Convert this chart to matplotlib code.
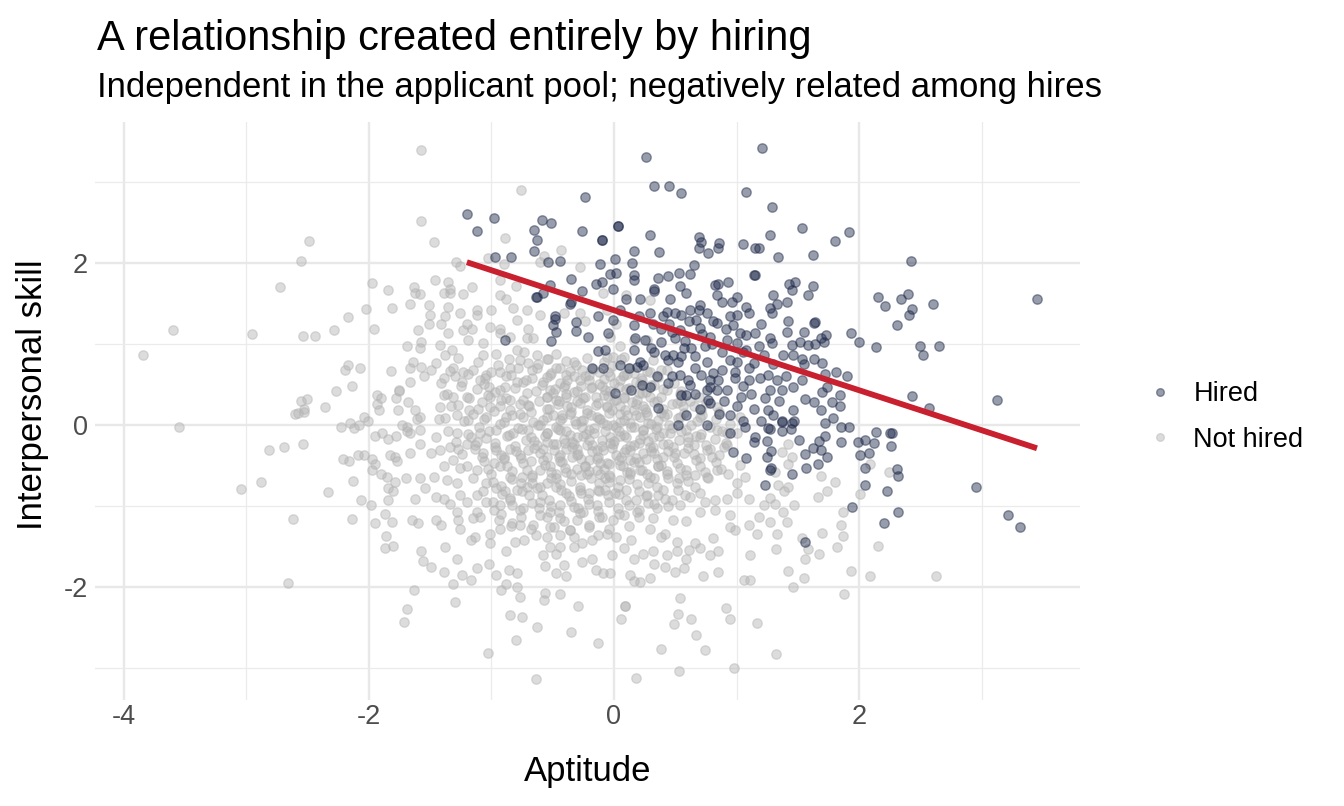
import matplotlib
matplotlib.use("Agg")
import matplotlib.pyplot as plt
from matplotlib.lines import Line2D
import numpy as np

plt.rcParams['font.family'] = ['Liberation Sans', 'DejaVu Sans']

title = "A relationship created entirely by hiring"
subtitle = "Independent in the applicant pool; negatively related among hires"
x_label = "Aptitude"
y_label = "Interpersonal skill"
legend_labels = ["Hired", "Not hired"]
x_ticks = [-4, -2, 0, 2]
y_ticks = [-2, 0, 2]

# Hired applicants: (aptitude, interpersonal skill)
hired_points = [
    (0.26,3.31),(0.33,2.95),(0.45,2.95),(0.55,2.86),(1.08,2.88),(-0.24,2.82),(-1.20,2.61),(-0.98,2.55),
    (-1.12,2.40),(-0.59,2.53),(-0.51,2.49),(-0.65,2.41),(-0.63,2.28),(-0.65,2.15),(-0.26,2.39),(0.03,2.46),
    (0.03,2.46),(-0.10,2.28),(-0.10,2.28),(0.29,2.35),(0.37,2.14),(0.16,2.15),(0.01,2.05),(0.15,2.00),
    (-0.11,1.99),(-0.54,2.01),(-0.44,2.02),(-0.97,2.07),(-0.84,2.08),(0.69,2.32),(0.71,2.26),(0.69,2.19),
    (0.77,2.12),(0.86,2.25),(0.85,2.18),(1.05,2.24),(1.15,2.19),(0.65,1.97),(0.62,1.86),(0.53,1.88),
    (0.44,1.84),(0.36,1.82),(0.33,1.68),(0.54,1.72),(0.16,1.85),(0.16,1.79),(-0.03,1.87),(0.02,1.88),
    (-0.15,1.74),(-0.10,1.77),(-0.01,1.68),(0.82,1.73),(0.85,1.74),(0.93,1.77),(1.14,1.85),(-0.35,1.80),
    (-0.26,1.66),(-0.52,1.73),(-0.58,1.63),(-0.63,1.58),(-0.36,1.50),(-0.35,1.52),(-0.48,1.31),(-0.47,1.15),
    (-0.51,1.04),(-0.89,1.05),(-0.21,1.09),(-0.31,1.27),(-0.31,1.16),(-0.13,1.35),(-0.13,0.91),(-0.18,0.70),
    (-0.50,1.23),(-0.48,1.34),(-0.64,1.58),
    (1.21,3.42),(1.29,2.69),(1.27,2.34),(1.53,2.43),(1.18,2.19),(1.34,2.08),(1.62,2.10),(1.80,2.27),
    (1.92,2.38),(2.42,2.03),(2.15,1.58),(2.21,1.47),(2.34,1.56),(2.40,1.62),(2.43,1.43),(2.41,1.36),
    (2.60,1.49),(2.31,1.24),(3.45,1.56),(1.93,1.13),(2.00,1.02),(2.14,0.96),(2.50,0.98),(2.52,0.87),
    (2.65,0.97),(2.43,0.36),(2.57,0.21),(3.12,0.31),(1.15,1.85),(1.43,1.74),(1.48,1.77),(1.62,1.72),
    (1.58,1.61),(1.63,1.26),(1.64,1.27),(1.55,1.15),(1.73,1.11),(1.69,1.07),(1.71,1.02),(1.64,1.00),
    (1.58,0.99),(1.52,1.02),(1.63,0.82),(1.70,0.76),(1.53,0.81),(1.55,0.75),(1.81,0.65),(1.90,0.60),
    (1.72,0.63),(1.53,0.55),(1.56,0.32),(1.63,0.29),(1.70,0.41),(1.74,0.47),(1.84,0.37),(1.84,0.23),
    (1.78,0.28),(1.69,0.19),
    (2.95,-0.76),(3.21,-1.11),(3.31,-1.26),(2.32,-1.08),(2.20,-1.21),(1.94,-1.01),(1.56,-1.44),(2.23,-0.81),
    (2.05,-0.74),(2.31,-0.54),(2.32,-0.63),(2.05,-0.53),(2.01,-0.37),(2.08,-0.34),(2.26,-0.26),(2.25,-0.10),
    (2.27,-0.10),(2.14,-0.09),(2.12,-0.22),(2.05,-0.18),(1.99,-0.21),(1.85,-0.21),(1.92,-0.02),(1.85,-0.02),
    (1.79,0.09),(1.72,0.02),(1.72,-0.14),(1.67,-0.20),(1.62,-0.28),(1.56,-0.36),(1.69,-0.31),(1.74,-0.39),
    (1.66,-0.48),(1.57,-0.53),(1.51,-0.19),(1.45,-0.60),(1.27,-0.55),(1.23,-0.74),(1.44,-0.05),(1.27,-0.05),
    (1.37,0.05),(1.47,0.05),(1.28,-0.32),(1.25,-0.40),(0.97,-0.33),(1.08,-0.41),(1.14,-0.21),(1.28,-0.53),
    (0.21,1.56),(0.33,1.65),(0.46,1.55),(0.59,1.63),(0.70,1.48),(0.84,1.61),(0.88,1.52),(0.96,1.52),
    (1.00,1.58),(1.08,1.46),(1.30,1.61),(1.33,1.50),(1.45,1.67),(1.41,1.52),(1.27,1.44),(0.05,1.42),
    (0.29,1.38),(0.43,1.40),(0.50,1.38),(0.55,1.36),(0.62,1.42),(0.69,1.42),(0.76,1.38),(0.81,1.28),
    (0.84,1.26),(0.91,1.19),(0.97,1.23),(1.00,1.36),(1.10,1.38),(-0.01,1.30),(0.16,1.23),(0.32,1.25),
    (0.40,1.34),(0.67,1.30),(0.61,1.28),(1.29,1.38),(-0.05,1.13),(0.17,1.07),(0.25,1.05),(0.38,1.03),
    (0.50,1.07),(0.47,1.15),(0.54,1.17),(0.78,1.09),(1.03,1.13),(1.08,1.11),(1.15,1.13),(1.27,1.07),
    (1.29,1.01),(1.41,1.15),(1.42,1.28),(1.45,0.99),(1.00,1.01),(-0.07,0.93),(0.16,0.93),(0.33,0.90),
    (0.42,0.86),(0.48,0.86),(0.57,0.95),(0.63,0.95),(0.74,0.97),(0.88,0.90),(1.08,0.93),(1.22,0.86),
    (1.38,0.86),(1.46,0.86),(0.21,0.78),(0.24,0.74),(0.44,0.80),(0.52,0.78),(0.76,0.78),(1.00,0.78),
    (0.05,0.74),(-0.09,0.70),(0.12,0.70),(0.19,0.72),(0.47,0.60),(0.54,0.62),(0.66,0.70),(0.81,0.64),
    (0.88,0.68),(0.99,0.66),(1.10,0.70),(1.19,0.58),(1.26,0.62),(1.33,0.55),(1.40,0.60),(0.62,0.49),
    (0.78,0.55),(0.99,0.58),(0.01,0.39),(0.14,0.43),(0.23,0.49),(0.29,0.47),(0.55,0.37),(0.59,0.37),
    (0.76,0.43),(0.78,0.47),(0.84,0.43),(0.92,0.43),(1.04,0.35),(1.23,0.33),(1.27,0.43),(1.37,0.43),
    (1.46,0.47),(0.36,0.21),(0.59,0.12),(0.77,0.31),(0.78,0.27),(1.00,0.23),(1.14,0.20),(1.26,0.18),
    (1.30,0.12),(1.37,0.04),(1.46,0.18),(0.95,0.12),(0.52,0.00),(0.76,0.00),(1.07,-0.02),(1.26,-0.04),
    (1.37,-0.08),(1.45,0.02),(1.15,-0.15),
    (0.72,1.12),(0.92,1.05),(1.18,0.98),(0.66,0.85),(0.95,0.80),(1.14,0.76),(0.71,0.62),(1.05,0.48),
    (0.90,0.30),(1.12,0.38),(0.44,0.52),(0.66,0.38),(0.86,0.14),(1.20,0.05),(0.38,1.18),(0.58,1.04),
    (0.30,0.95),(0.55,0.85),(0.80,1.00),(1.05,0.90),(1.30,0.75),(0.45,1.25),(0.70,1.20),(0.95,1.35),
    (1.20,1.25),(0.35,0.60),(0.60,0.55),(0.85,0.55),(1.10,0.55),(1.35,0.30),(0.70,0.20),(1.05,0.05),
    (1.25,-0.20),(0.95,-0.10),(0.20,1.35),(0.10,1.55),
]

# Not hired applicants: (aptitude, interpersonal skill)
not_hired_points = [
    # far left / upper left
    (-1.57,3.40),(-1.57,2.52),(-2.49,2.27),(-2.55,2.02),(-2.72,1.70),(-3.60,1.17),(-3.84,0.86),(-2.95,1.12),
    (-2.54,1.10),(-2.44,1.10),(-2.28,1.17),(-2.17,1.33),(-2.02,1.43),(-1.97,1.75),(-1.96,1.19),(-1.84,1.67),
    (-1.81,1.45),(-2.17,0.74),(-2.19,0.68),(-2.07,0.70),(-1.82,0.67),(-2.14,0.48),(-2.27,0.42),(-2.55,0.30),
    (-2.50,0.32),(-2.53,0.20),(-2.36,0.22),(-2.58,0.15),(-1.93,0.37),(-1.90,0.33),(-1.93,0.26),(-1.78,0.33),
    (-1.75,0.42),(-1.92,0.18),(-1.76,0.19),(-1.63,1.70),
    # upper middle
    (-0.76,2.90),(-0.89,2.31),(-1.47,2.26),(-0.43,2.16),(-1.29,2.01),(-1.26,1.96),(-1.03,2.06),(-0.90,1.99),
    (-0.28,1.95),(-0.57,2.09),(-0.60,2.01),(-1.35,1.77),(-1.34,1.68),(-1.16,1.70),(-0.93,1.79),(-0.80,1.72),
    (-1.46,1.79),
    # left lower
    (-3.55,-0.02),(-2.60,0.13),(-2.53,0.16),(-2.81,-0.31),(-2.69,-0.27),(-2.54,-0.23),(-3.04,-0.79),(-2.88,-0.70),
    (-2.33,-0.83),(-2.62,-1.16),(-2.66,-1.95),(-2.23,-0.02),(-2.15,0.02),(-2.12,-0.04),(-2.08,0.00),(-2.04,0.10),
    (-2.01,0.05),(-2.21,-0.42),(-2.16,-0.44),(-2.09,-0.37),(-2.04,-0.37),(-1.97,-0.42),(-1.95,-0.48),(-1.97,-0.56),
    (-1.90,-0.60),(-1.85,-0.64),(-1.79,-0.70),(-2.13,-0.69),(-2.06,-0.92),(-1.98,-0.99),(-2.14,-1.16),(-1.95,-1.21),
    (-1.87,-1.10),(-1.81,-1.20),(-1.86,-1.37),(-1.87,-1.52),(-1.80,-1.49),(-1.84,-0.78),(-1.80,-0.82),(-1.84,-0.92),
    (-1.70,-0.65),(-1.66,-0.35),(-1.58,-0.65),(-1.62,-0.91),(-1.65,-1.17),(-1.60,-1.21),(-1.57,-1.56),(-1.56,-1.68),
    (-1.63,-2.04),(-1.69,-2.27),(-1.71,-2.43),(-1.95,-0.14),(-1.89,-0.10),(-1.84,-0.17),(-1.78,-0.13),(-1.83,-0.37),
    (-1.79,-0.40),(-1.77,-0.44),(-1.73,0.00),(-1.69,-0.07),(-1.66,-0.10),(-1.58,-0.24),(-1.58,0.10),
    # centre-left block
    (-1.62,1.63),(-1.58,1.62),(-1.39,1.63),(-1.34,1.63),(-1.23,1.62),(-0.93,1.61),(-0.88,1.56),(-1.66,1.50),
    (-1.51,1.48),(-1.35,1.46),(-1.12,1.42),(-1.00,1.42),(-0.82,1.44),(-0.71,1.42),(-1.50,1.36),(-1.26,1.38),
    (-1.12,1.36),(-1.38,1.34),(-1.41,1.25),(-1.51,1.25),(-1.20,1.25),(-1.01,1.21),(-0.93,1.19),(-0.79,1.30),
    (-0.70,1.19),(-0.60,1.36),(-0.41,1.38),(-1.60,1.17),(-1.35,1.13),(-1.23,1.17),(-1.16,1.19),(-0.93,1.13),
    (-0.85,1.09),(-1.57,1.03),(-1.19,1.05),(-1.07,1.01),(-0.71,1.07),(-0.66,1.07),(-0.28,1.38),(-0.24,1.28),
    (-1.69,0.97),(-1.58,0.95),(-1.42,0.99),(-1.32,0.93),(-1.38,0.86),(-1.07,0.86),(-0.96,0.88),(-0.79,0.93),
    (-0.73,0.90),(-0.63,0.86),(-0.55,0.82),(-0.47,0.88),(-1.64,0.78),(-1.45,0.76),(-1.66,0.70),(-1.57,0.72),
    (-1.49,0.68),(-1.31,0.70),(-1.23,0.66),(-1.15,0.68),(-1.04,0.62),(-0.93,0.66),(-0.85,0.70),(-0.77,0.80),
    (-0.63,0.70),(-0.44,0.70),(-0.33,0.78),(-0.26,0.68),(-0.39,0.62),(-1.66,0.53),(-1.55,0.60),(-1.39,0.58),
    (-1.30,0.60),(-1.24,0.53),(-1.09,0.55),(-1.02,0.47),(-0.93,0.43),(-0.79,0.53),(-0.67,0.58),(-0.58,0.53),
    (-0.52,0.43),(-0.41,0.47),(-0.28,0.55),(-0.18,0.47),(-1.75,0.43),(-1.68,0.29),(-1.62,0.18),(-1.39,0.37),
    (-1.31,0.35),(-1.18,0.33),(-1.01,0.35),(-0.85,0.31),(-0.74,0.31),(-0.55,0.35),(-0.47,0.31),(-0.39,0.35),
    (-0.28,0.27),(-0.15,0.35),(-1.42,0.22),(-1.27,0.25),(-1.11,0.20),(-0.93,0.23),(-1.61,0.08),(-1.43,0.08),
    (-1.28,0.12),(-1.19,0.06),(-1.04,0.10),(-0.88,0.10),(-0.77,0.14),(-0.66,0.04),(-0.55,0.10),(-0.44,0.06),
    (-0.36,0.14),(-0.25,0.06),(-0.14,0.10),(-1.69,-0.02),(-1.58,-0.06),(-1.45,-0.15),(-1.28,-0.10),(-1.17,-0.15),
    (-1.09,-0.10),(-0.96,-0.06),(-0.82,-0.10),(-0.68,-0.15),(-0.55,-0.10),(-0.44,-0.06),(-0.30,-0.15),(-0.20,-0.06),
    # dense core
    (-0.40,0.50),(-0.30,0.42),(-0.20,0.55),(-0.10,0.48),(0.00,0.52),(0.10,0.45),(0.20,0.40),(0.30,0.50),
    (-0.45,0.30),(-0.35,0.22),(-0.25,0.33),(-0.15,0.25),(-0.05,0.36),(0.05,0.24),(0.15,0.28),(0.25,0.20),
    (0.35,0.30),(-0.42,0.12),(-0.32,0.05),(-0.22,0.15),(-0.12,0.08),(-0.02,0.18),(0.08,0.06),(0.18,0.12),
    (0.28,0.03),(0.38,0.15),(-0.46,-0.05),(-0.36,-0.12),(-0.26,-0.02),(-0.16,-0.10),(-0.06,0.00),(0.04,-0.08),
    (0.14,-0.03),(0.24,-0.12),(0.34,-0.05),(-0.40,-0.22),(-0.30,-0.30),(-0.20,-0.18),(-0.10,-0.26),(0.00,-0.20),
    (0.10,-0.30),(0.20,-0.22),(0.30,-0.32),(0.40,-0.24),(-0.44,-0.45),(-0.34,-0.40),(-0.24,-0.50),(-0.14,-0.42),
    (-0.04,-0.48),(0.06,-0.40),(0.16,-0.46),(0.26,-0.42),(0.36,-0.50),(-0.55,0.20),(-0.60,0.00),(-0.58,-0.30),
    (0.45,0.00),(0.50,-0.35),(-0.50,0.40),(-0.70,0.25),(-0.75,-0.05),(-0.68,-0.45),(0.55,0.30),(0.60,-0.15),
    (-0.33,0.60),(-0.12,0.65),(0.08,0.62),(-0.52,0.62),(0.22,0.58),(-0.27,-0.62),(-0.07,-0.66),(0.13,-0.60),
    (0.33,-0.65),(-0.47,-0.65),
    # dense core, second pass
    (-0.95,0.74),(-0.78,0.70),(-0.62,0.75),(-0.47,0.71),(-0.31,0.74),(-0.17,0.69),(-0.02,0.73),(0.12,0.70),
    (-1.05,0.58),(-0.88,0.61),(-0.72,0.56),(-0.55,0.59),(-0.38,0.56),(-0.24,0.61),(-0.08,0.57),(0.07,0.60),
    (0.23,0.55),(0.36,0.59),(-1.12,0.44),(-0.97,0.41),(-0.81,0.46),(-0.64,0.42),(-0.48,0.45),(-0.33,0.41),
    (-0.19,0.46),(-0.03,0.42),(0.12,0.46),(0.26,0.41),(0.40,0.45),(0.55,0.42),(-1.08,0.28),(-0.92,0.31),
    (-0.77,0.26),(-0.61,0.30),(-0.46,0.26),(-0.30,0.30),(-0.13,0.27),(0.02,0.31),(0.18,0.26),(0.33,0.29),
    (0.47,0.26),(0.62,0.30),(0.75,0.27),(-1.15,0.14),(-0.98,0.17),(-0.83,0.12),(-0.68,0.16),(-0.50,0.12),
    (-0.35,0.16),(-0.19,0.12),(-0.04,0.15),(0.11,0.12),(0.26,0.16),(0.41,0.11),(0.57,0.15),(0.72,0.12),
    (0.86,0.16),(-1.10,-0.02),(-0.93,0.01),(-0.78,-0.04),(-0.62,0.00),(-0.47,-0.03),(-0.31,0.01),(-0.16,-0.04),
    (-0.01,0.00),(0.16,-0.03),(0.30,0.01),(0.47,-0.04),(0.63,0.00),(0.78,-0.03),(0.95,0.01),(-1.04,-0.16),
    (-0.87,-0.13),(-0.72,-0.18),(-0.56,-0.14),(-0.41,-0.17),(-0.25,-0.13),(-0.10,-0.18),(0.05,-0.14),(0.21,-0.17),
    (0.37,-0.13),(0.53,-0.18),(0.67,-0.14),(0.82,-0.17),(-1.13,-0.30),(-0.97,-0.27),(-0.80,-0.32),(-0.65,-0.28),
    (-0.49,-0.31),(-0.34,-0.27),(-0.18,-0.32),(-0.02,-0.28),(0.13,-0.31),(0.29,-0.27),(0.44,-0.32),(0.60,-0.28),
    (0.76,-0.31),(0.90,-0.27),(-1.06,-0.45),(-0.90,-0.42),(-0.74,-0.47),(-0.58,-0.43),(-0.42,-0.46),(-0.27,-0.42),
    (-0.11,-0.47),(0.04,-0.43),(0.20,-0.46),(0.35,-0.42),(0.51,-0.47),(0.67,-0.43),(0.83,-0.46),(-1.00,-0.60),
    (-0.83,-0.57),(-0.67,-0.62),(-0.51,-0.58),(-0.35,-0.61),(-0.20,-0.57),(-0.04,-0.62),(0.11,-0.58),(0.27,-0.61),
    (0.43,-0.57),(0.59,-0.62),(0.74,-0.58),(-0.92,-0.75),(-0.76,-0.72),(-0.60,-0.77),(-0.44,-0.73),(-0.28,-0.76),
    (-0.12,-0.72),(0.03,-0.77),(0.19,-0.73),(0.35,-0.76),(0.51,-0.72),(0.66,-0.77),(-0.85,-0.90),(-0.69,-0.87),
    (-0.53,-0.92),(-0.37,-0.88),(-0.21,-0.91),(-0.05,-0.87),(0.10,-0.92),(0.26,-0.88),(0.42,-0.91),(0.58,-0.87),
    (-0.77,-1.05),(-0.61,-1.02),(-0.45,-1.07),(-0.29,-1.03),(-0.13,-1.06),(0.03,-1.02),(0.19,-1.07),(0.35,-1.03),
    # dense core, third pass
    (-1.27,0.83),(-1.11,0.78),(-0.86,0.81),(-0.70,0.77),(-0.54,0.82),(-0.39,0.79),(-0.22,0.83),(-0.08,0.78),
    (0.06,0.81),(-1.34,0.67),(-1.19,0.63),(-1.00,0.66),(-0.84,0.62),(-0.67,0.68),(-0.51,0.64),(-0.36,0.67),
    (-0.20,0.62),(-0.05,0.66),(0.11,0.63),(0.27,0.67),(-1.41,0.52),(-1.25,0.48),(-1.06,0.51),(-0.89,0.47),
    (-0.74,0.53),(-0.59,0.49),(-0.44,0.52),(-0.27,0.48),(-0.12,0.51),(0.04,0.47),(0.18,0.53),(0.33,0.49),
    (0.49,0.52),(-1.36,0.38),(-1.20,0.34),(-1.03,0.37),(-0.88,0.33),(-0.71,0.39),(-0.55,0.35),(-0.39,0.38),
    (-0.24,0.34),(-0.08,0.37),(0.08,0.33),(0.23,0.39),(0.38,0.35),(0.54,0.38),(0.69,0.34),(-1.33,0.23),
    (-1.18,0.19),(-1.01,0.22),(-0.85,0.18),(-0.69,0.24),(-0.53,0.20),(-0.38,0.23),(-0.22,0.19),(-0.06,0.22),
    (0.09,0.18),(0.24,0.24),(0.40,0.20),(0.56,0.23),(0.71,0.19),(0.84,0.22),(-1.38,0.09),(-1.22,0.05),
    (-1.06,0.08),(-0.90,0.04),(-0.74,0.10),(-0.58,0.06),(-0.42,0.09),(-0.27,0.05),(-0.11,0.08),(0.05,0.04),
    (0.21,0.10),(0.36,0.06),(0.52,0.09),(0.68,0.05),(0.83,0.08),(-1.35,-0.07),(-1.19,-0.11),(-1.02,-0.08),
    (-0.86,-0.12),(-0.70,-0.06),(-0.55,-0.10),(-0.39,-0.07),(-0.23,-0.11),(-0.07,-0.08),(0.08,-0.12),(0.24,-0.06),
    (0.40,-0.10),(0.55,-0.07),(0.71,-0.11),(0.88,-0.08),(-1.29,-0.21),(-1.13,-0.25),(-0.97,-0.22),(-0.81,-0.26),
    (-0.65,-0.20),(-0.50,-0.24),(-0.34,-0.21),(-0.18,-0.25),(-0.03,-0.22),(0.13,-0.26),(0.28,-0.20),(0.44,-0.24),
    (0.60,-0.21),(0.75,-0.25),(0.91,-0.22),(-1.24,-0.36),(-1.08,-0.40),(-0.92,-0.37),(-0.76,-0.41),(-0.60,-0.35),
    (-0.45,-0.39),(-0.29,-0.36),(-0.13,-0.40),(0.02,-0.37),(0.18,-0.41),(0.33,-0.35),(0.49,-0.39),(0.65,-0.36),
    (0.80,-0.40),(-1.20,-0.50),(-1.03,-0.54),(-0.87,-0.51),(-0.71,-0.55),(-0.56,-0.49),(-0.40,-0.53),(-0.24,-0.50),
    (-0.08,-0.54),(0.07,-0.51),(0.23,-0.55),(0.38,-0.49),(0.54,-0.53),(0.70,-0.50),(0.87,-0.54),(-1.15,-0.66),
    (-0.99,-0.70),(-0.83,-0.67),(-0.67,-0.71),(-0.51,-0.65),(-0.35,-0.69),(-0.19,-0.66),(-0.04,-0.70),(0.12,-0.67),
    (0.28,-0.71),(0.44,-0.65),(0.60,-0.69),(0.77,-0.66),(-1.07,-0.81),(-0.91,-0.85),(-0.75,-0.82),(-0.59,-0.86),
    (-0.43,-0.80),(-0.27,-0.84),(-0.12,-0.81),(0.04,-0.85),(0.20,-0.82),(0.36,-0.86),(0.52,-0.80),(-0.99,-0.95),
    (-0.83,-0.99),(-0.67,-0.96),(-0.51,-1.00),(-0.35,-0.94),(-0.20,-0.98),(-0.04,-0.95),(0.12,-0.99),(0.28,-0.96),
    (0.44,-1.00),(-0.92,-1.10),(-0.76,-1.14),(-0.60,-1.11),(-0.44,-1.15),(-0.28,-1.09),(-0.12,-1.13),(0.04,-1.10),
    (0.20,-1.14),(-0.84,-1.25),(-0.68,-1.29),(-0.52,-1.26),(-0.36,-1.30),(-0.20,-1.24),(-0.04,-1.28),(0.12,-1.25),
    # centre-right above axis
    (-0.09,1.63),(0.10,1.61),(0.29,1.54),(-0.06,1.42),(0.02,1.25),(-0.03,1.09),(0.05,0.97),(0.16,1.05),
    (0.27,1.05),(-0.06,0.84),(0.08,0.84),(0.32,0.80),(0.38,0.68),(-0.03,0.60),(0.05,0.55),(0.16,0.64),
    (0.29,0.66),(0.43,0.68),(-0.07,0.43),(0.08,0.35),(0.19,0.31),(0.29,0.35),(0.43,0.43),(0.51,0.27),
    (-0.06,0.23),(0.05,0.14),(0.16,0.18),(0.27,0.12),(0.43,0.14),(0.54,0.10),(0.65,0.23),(0.70,0.10),
    (-0.09,0.02),(0.02,-0.02),(0.13,0.02),(0.24,-0.06),(0.35,-0.02),(0.46,-0.10),(0.59,-0.06),(0.70,-0.15),
    (0.84,-0.06),(0.92,-0.10),(-0.03,-0.15),(0.10,-0.15),(0.32,-0.15),(-0.01,0.84),(0.21,0.51),(0.00,0.31),
    (1.03,0.10),(1.00,-0.10),
    # lower left-centre
    (-1.49,-0.35),(-1.42,-0.31),(-1.34,-0.27),(-1.27,-0.29),(-1.20,-0.23),(-1.12,-0.21),(-1.07,-0.35),(-0.96,-0.31),
    (-0.90,-0.39),(-0.85,-0.29),(-0.77,-0.37),(-0.70,-0.31),(-0.63,-0.25),(-0.55,-0.21),(-0.47,-0.23),(-0.39,-0.29),
    (-0.33,-0.23),(-0.22,-0.25),(-0.14,-0.31),(-0.55,-0.39),(-0.44,-0.37),(-0.30,-0.37),(-0.20,-0.43),(-1.47,-0.64),
    (-1.39,-0.51),(-1.31,-0.43),(-1.26,-0.53),(-1.36,-0.68),(-1.28,-0.72),(-1.12,-0.56),(-0.98,-0.47),(-0.93,-0.51),
    (-0.85,-0.64),(-0.75,-0.64),(-0.67,-0.64),(-0.60,-0.56),(-0.52,-0.51),(-0.47,-0.60),(-0.39,-0.58),(-0.30,-0.54),
    (-0.22,-0.60),(-0.14,-0.56),(-1.54,-0.78),(-1.45,-0.89),(-1.39,-0.91),(-1.26,-0.86),(-1.12,-0.86),(-1.04,-0.72),
    (-0.96,-0.78),(-0.89,-0.82),(-0.79,-0.80),(-0.71,-0.76),(-0.63,-0.78),(-0.55,-0.72),(-0.47,-0.76),(-0.39,-0.84),
    (-0.28,-0.80),(-0.20,-0.84),(-0.13,-0.80),(-1.34,-0.97),(-1.20,-0.95),(-1.28,-1.07),(-1.12,-1.07),(-1.04,-0.95),
    (-0.98,-1.05),(-0.93,-0.99),(-0.85,-0.93),(-0.74,-1.03),(-0.60,-0.95),(-0.52,-1.07),(-0.44,-0.99),(-0.33,-1.01),
    (-0.25,-1.07),(-0.14,-0.99),(-1.45,-1.17),(-1.41,-1.24),(-1.27,-1.17),(-1.26,-1.28),(-1.15,-1.15),(-1.09,-1.13),
    (-0.94,-1.17),(-0.93,-1.28),(-0.83,-1.21),(-0.77,-1.24),(-0.66,-1.24),(-0.55,-1.13),(-0.49,-1.26),(-0.41,-1.19),
    (-0.36,-1.30),(-0.30,-1.17),(-0.20,-1.26),(-0.13,-1.36),(-1.01,-1.34),(-0.55,-1.38),(-0.44,-1.36),(-0.33,-1.38),
    (-1.38,-1.50),(-1.13,-1.38),(-1.17,-1.42),(-1.01,-1.46),(-0.88,-1.56),(-0.81,-1.44),(-0.73,-1.42),(-0.64,-1.36),
    (-0.52,-1.50),(-0.44,-1.50),(-0.33,-1.50),(-0.26,-1.46),(-0.18,-1.42),(-0.58,-1.61),(-0.47,-1.59),(-1.49,-1.75),
    (-1.28,-1.65),(-1.39,-1.81),(-1.12,-1.77),(-1.24,-1.85),(-1.17,-1.91),(-1.02,-1.71),(-0.96,-1.85),(-0.86,-1.79),
    (-0.79,-1.83),(-0.56,-1.74),(-0.47,-1.83),(-0.41,-1.73),(-0.39,-1.87),(-0.26,-1.69),(-0.18,-1.65),(-0.15,-1.79),
    (-1.31,-1.96),(-0.88,-1.96),(-0.79,-2.00),
    # lower right-centre
    (-0.09,-0.31),(-0.01,-0.23),(0.08,-0.33),(0.16,-0.25),(0.24,-0.35),(0.32,-0.27),(0.40,-0.39),(0.48,-0.27),
    (0.57,-0.35),(0.65,-0.25),(0.70,-0.41),(0.78,-0.29),(0.86,-0.37),(0.92,-0.25),(1.03,-0.49),(-0.06,-0.47),
    (0.05,-0.49),(0.13,-0.43),(-0.11,-0.60),(-0.03,-0.64),(0.05,-0.68),(0.13,-0.58),(0.21,-0.56),(0.29,-0.64),
    (0.36,-0.51),(0.43,-0.60),(0.53,-0.66),(0.59,-0.56),(0.66,-0.62),(0.76,-0.64),(0.84,-0.56),(0.93,-0.60),
    (1.00,-0.72),(1.07,-0.64),(-0.07,-0.80),(0.01,-0.84),(0.10,-0.80),(0.18,-0.93),(0.27,-0.86),(0.33,-0.97),
    (0.40,-0.80),(0.47,-0.93),(0.54,-0.99),(0.62,-0.89),(0.70,-0.84),(0.74,-0.95),(0.82,-0.93),(0.92,-0.91),
    (1.00,-0.84),(1.10,-0.91),(-0.10,-1.13),(-0.01,-1.17),(0.08,-1.11),(0.20,-1.05),(0.32,-1.15),(0.48,-1.17),
    (0.59,-1.19),(0.70,-1.07),(0.82,-1.05),(0.95,-1.11),(0.95,-1.26),(0.99,-1.30),(1.10,-1.24),(-0.06,-1.34),
    (0.02,-1.38),(0.14,-1.42),(0.29,-1.28),(0.38,-1.38),(0.42,-1.34),(0.51,-1.44),(0.61,-1.54),(0.66,-1.46),
    (0.70,-1.52),(0.81,-1.40),(-0.02,-1.61),(0.08,-1.52),(0.16,-1.65),(0.24,-1.59),(0.32,-1.56),(0.43,-1.61),
    (0.51,-1.56),(0.59,-1.65),(0.78,-1.61),(0.85,-1.56),(1.11,-1.61),(-0.09,-1.83),(0.13,-1.85),(0.21,-1.94),
    (0.29,-1.89),(0.33,-1.71),(0.42,-1.75),(0.50,-1.81),(0.57,-1.77),(0.73,-1.87),(0.85,-1.81),(1.06,-1.91),
    (1.11,-1.91),(0.16,-1.92),(-0.03,-1.83),
    # right side
    (2.63,-1.86),(2.09,-1.86),(2.15,-1.49),(1.93,-1.80),(1.88,-2.09),(1.32,-2.83),(1.17,-2.44),(1.46,-2.00),
    (1.55,-1.89),(1.42,-1.80),(1.56,-1.65),(1.67,-1.59),(1.82,-1.51),(1.87,-1.37),(1.85,-1.24),(1.70,-1.33),
    (1.58,-1.53),(1.53,-1.40),(1.32,-1.53),(2.01,-0.85),(1.87,-1.07),(1.80,-0.70),(1.74,-0.81),(1.66,-0.89),
    (2.24,-0.58),(2.09,-0.48),(1.69,-0.63),(1.47,-0.99),(1.38,-1.07),(1.41,-1.20),(1.27,-1.20),(1.18,-1.14),
    (1.17,-1.34),(1.33,-1.35),(1.27,-0.90),(1.22,-0.99),(1.39,-0.81),(1.31,-0.97),(1.42,-0.23),(1.37,-0.33),
    (1.42,-0.48),(1.31,-0.58),(1.45,-0.40),(1.34,-0.74),(1.42,-0.77),
    # bottom
    (-0.64,-3.14),(0.18,-3.12),(0.53,-3.04),(0.98,-3.00),(-1.03,-2.81),(-0.80,-2.65),(-0.35,-2.56),(-0.13,-2.69),
    (0.38,-2.77),(0.74,-2.78),(0.67,-2.59),(-0.63,-2.49),(-0.85,-2.34),(-0.75,-2.37),(-1.30,-2.18),(-0.57,-2.16),
    (-0.56,-2.07),(-0.44,-2.09),(-0.29,-2.23),(-0.77,-2.12),(-0.92,-2.04),(0.06,-2.40),(0.09,-2.24),(0.09,-2.24),
    (0.49,-2.46),(0.52,-2.33),(0.63,-2.40),(0.54,-2.13),(0.91,-2.26),(0.95,-2.40),
]

# Linear fit among hires
fit_slope = -0.494
fit_intercept = 1.417

hired = np.array(hired_points)
not_hired = np.array(not_hired_points)

navy = '#1b2647'
grey = '#b3b3b3'
red = '#c8202f'

fig = plt.figure(figsize=(13.44, 8.06), dpi=100)
ax = fig.add_axes([95/1344, 1-700/806, (1080-95)/1344, (700-122)/806])

ax.scatter(not_hired[:, 0], not_hired[:, 1], s=46, facecolor=grey, edgecolor=grey,
           linewidths=1.0, alpha=0.45, zorder=2)
ax.scatter(hired[:, 0], hired[:, 1], s=46, facecolor=navy, edgecolor=navy,
           linewidths=1.0, alpha=0.45, zorder=3)

fx = np.array([hired[:, 0].min(), hired[:, 0].max()])
ax.plot(fx, fit_intercept + fit_slope * fx, color=red, lw=4.2, solid_capstyle='butt', zorder=4)

ax.set_xlim(-4.233, 3.801)
ax.set_ylim(-3.395, 3.741)
ax.set_xticks(x_ticks)
ax.set_yticks(y_ticks)
ax.set_xticklabels([str(t) for t in x_ticks])
ax.set_yticklabels([str(t) for t in y_ticks])
ax.set_xticks([-3, -1, 1, 3], minor=True)
ax.set_yticks([-3, -1, 1, 3], minor=True)
ax.grid(which='major', color='#e8e8e8', lw=1.7)
ax.grid(which='minor', color='#ebebeb', lw=0.9)
ax.set_axisbelow(True)
for s in ax.spines.values():
    s.set_visible(False)
ax.tick_params(which='both', length=0)
ax.tick_params(axis='x', labelsize=19.5, labelcolor='#4d4d4d', pad=3)
ax.tick_params(axis='y', labelsize=19.5, labelcolor='#4d4d4d', pad=5)

fig.text(97/1344, 1-50/806, title, fontsize=30, color='black', va='baseline', ha='left')
fig.text(97/1344, 1-97/806, subtitle, fontsize=25, color='black', va='baseline', ha='left')
fig.text(587.5/1344, 1-781/806, x_label, fontsize=25, ha='center', va='baseline')
fig.text(33/1344, 411/806, y_label, fontsize=25, ha='center', va='center', rotation=90)

handles = [Line2D([], [], ls='none', marker='o', markersize=5.5, markerfacecolor=navy,
                  markeredgecolor=navy, alpha=0.45),
           Line2D([], [], ls='none', marker='o', markersize=5.5, markerfacecolor=grey,
                  markeredgecolor=grey, alpha=0.45)]
fig.legend(handles, legend_labels, loc='center left', bbox_to_anchor=(1146/1344, 1-417/806),
           frameon=False, fontsize=19.5, handlelength=1.0, handletextpad=0.75, labelspacing=0.72,
           borderaxespad=0, borderpad=0)

fig.savefig('out.png', dpi=100)
